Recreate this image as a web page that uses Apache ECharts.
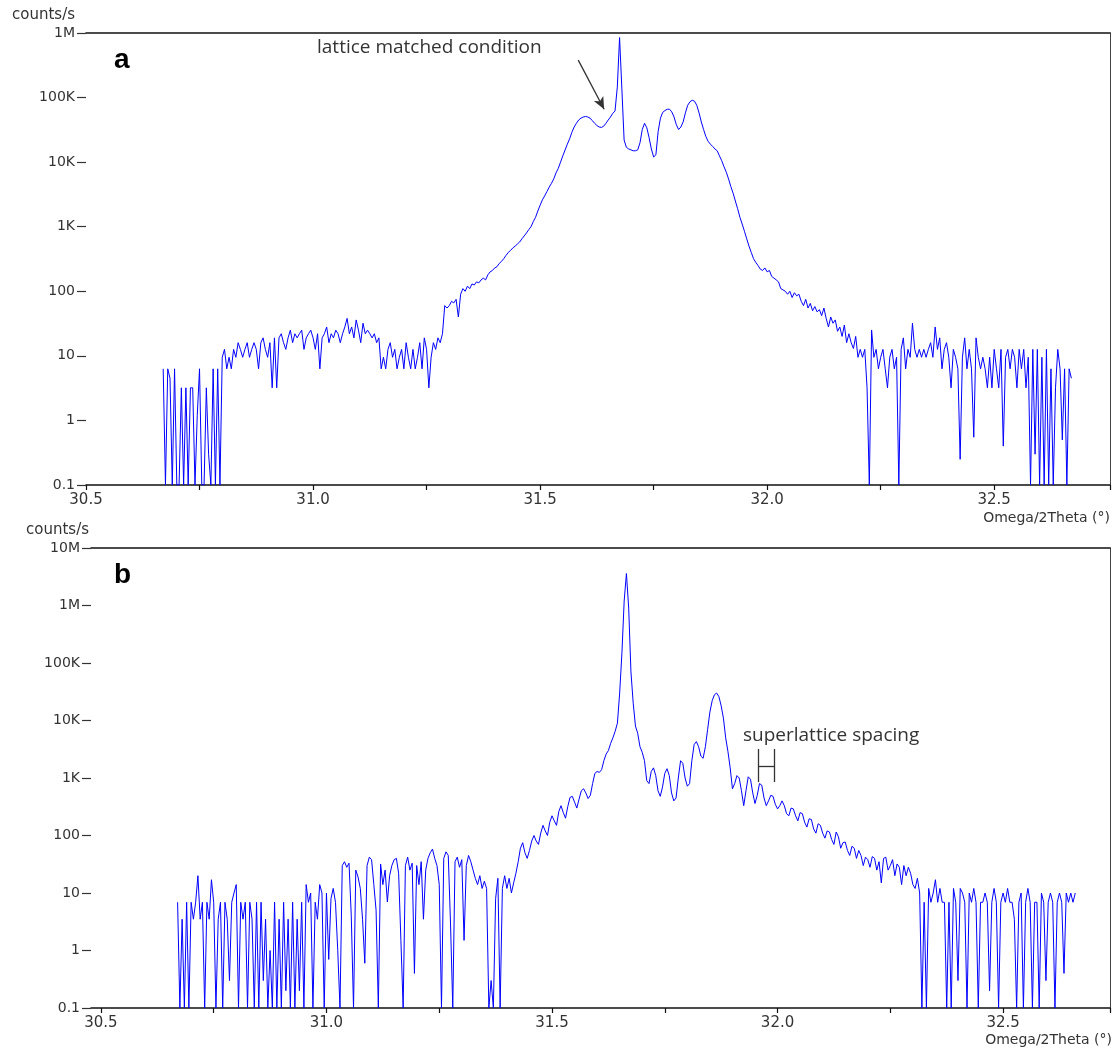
<!DOCTYPE html>
<html>
<head>
<meta charset="utf-8">
<title>Omega/2Theta scans a / b</title>
<script src="https://cdn.jsdelivr.net/npm/echarts@6/dist/echarts.min.js"></script>
<style>
  html, body { margin: 0; padding: 0; background: #fff; }
  #chart { width: 1119px; height: 1050px; }
</style>
</head>
<body>
<div id="chart"></div>
<script>
// scan grid: both scans start at 30.670 deg, one reading every 0.005 deg
const xStart = 30.67;
const xStep = 0.005;

// panel a, counts/s
const countsA = [
  6.3, 0.1, 6.3, 4.5, 0.1, 6.3, 0.1, 0.1, 3.2, 0.1,
  3.2, 0.1, 3.2, 3.2, 0.1, 1.2, 6.3, 0.1, 0.1, 3.2,
  0.3, 0.1, 6.3, 0.1, 6.3, 0.1, 9.5, 12.6, 6.3, 9.5,
  6.3, 12.6, 9.5, 16, 12.6, 9.5, 12.6, 16, 9.5, 12.6,
  16, 12.6, 6.3, 16, 19, 12.6, 9.5, 16, 3.2, 19,
  3.2, 19, 22, 16, 12.6, 19, 25, 16, 22, 19,
  22, 25, 12.6, 19, 22, 25, 19, 12.6, 22, 6.3,
  19, 22, 28, 16, 22, 19, 25, 22, 16, 22,
  28, 38, 22, 28, 19, 36, 25, 16, 32, 22,
  25, 22, 19, 22, 16, 19, 6.3, 9.5, 6.3, 12.6,
  16, 9.5, 12.6, 6.3, 9.5, 12.6, 6.3, 16, 9.5, 6.3,
  12.6, 6.3, 9.5, 16, 6.3, 19, 12.6, 3.2, 9.5, 16,
  12.6, 19, 16, 22, 60, 55, 60, 70, 66, 75,
  40, 90, 110, 100, 120, 110, 130, 125, 140, 135,
  150, 160, 150, 180, 200, 210, 230, 240, 270, 290,
  320, 360, 400, 430, 470, 500, 540, 580, 650, 720,
  800, 900, 1000, 1200, 1400, 1750, 2150, 2600, 3000, 3500,
  4100, 4700, 5500, 6800, 8000, 10000, 12500, 15400, 19000, 23000,
  29000, 35000, 40000, 45000, 48000, 50000, 51000, 50000, 48000, 44000,
  40000, 37000, 35000, 34500, 36000, 40000, 45000, 50000, 57000, 62000,
  145000, 850000, 140000, 22000, 17000, 16000, 15500, 15000, 15000, 15500,
  20000, 32000, 40000, 34000, 24000, 16000, 12000, 13000, 30000, 48000,
  59000, 63000, 66000, 66000, 60000, 50000, 38000, 32000, 35000, 42000,
  58000, 76000, 86000, 91000, 88000, 76000, 58000, 42000, 32000, 25000,
  21000, 19000, 17500, 16000, 15000, 12500, 10500, 8500, 7000, 5500,
  4200, 3300, 2500, 1900, 1400, 1100, 850, 650, 500, 400,
  320, 280, 250, 220, 210, 230, 200, 210, 170, 160,
  150, 140, 110, 105, 100, 90, 100, 80, 95, 85,
  90, 70, 60, 75, 55, 65, 50, 58, 48, 52,
  42, 55, 38, 28, 40, 32, 36, 24, 28, 20,
  30, 16, 22, 16, 13, 20, 9.5, 12.6, 9.5, 12.6,
  3.2, 0.1, 25, 9.5, 12.6, 6.3, 9.5, 12.6, 6.3, 3.2,
  9.5, 12.6, 6.3, 9.5, 0.1, 12.6, 19, 6.3, 12.6, 9.5,
  32, 12.6, 9.5, 12.6, 9.5, 12.6, 9.5, 12.6, 16, 9.5,
  28, 12.6, 19, 6.3, 12.6, 16, 9.5, 3.2, 12.6, 9.5,
  6.3, 0.25, 9.5, 19, 6.3, 12.6, 6.3, 0.55, 19, 9.5,
  6.3, 9.5, 6.3, 3.2, 9.5, 3.2, 12.6, 6.3, 3.2, 12.6,
  0.4, 9.5, 12.6, 6.3, 12.6, 9.5, 3.2, 12.6, 6.3, 12.6,
  3.2, 9.5, 0.1, 12.6, 0.3, 12.6, 0.1, 9.5, 0.1, 12.6,
  0.1, 6.3, 0.1, 3.2, 12.6, 6.3, 0.5, 6.3, 0.1, 6.3,
  4.5
];

// panel b, counts/s
const countsB = [
  6.9, 0.1, 3.5, 0.1, 6.9, 0.1, 6.9, 3.5, 6.9, 20,
  3.5, 6.9, 0.1, 6.9, 3.5, 17, 6.9, 0.1, 3.5, 6.9,
  0.1, 6.9, 3.5, 0.3, 6.9, 10, 14, 0.1, 6.9, 3.5,
  6.9, 0.1, 6.9, 3.5, 0.1, 6.9, 0.1, 6.9, 0.3, 3.5,
  0.1, 1, 0.1, 6.9, 0.1, 3.5, 0.1, 6.9, 0.2, 3.5,
  0.1, 6.9, 0.1, 3.5, 0.2, 6.9, 0.1, 14, 6.9, 10,
  0.1, 6.9, 3.5, 14, 10, 0.1, 10, 0.7, 8, 12,
  6.9, 1, 0.1, 30, 35, 28, 33, 4, 0.1, 25,
  19, 12, 3.5, 0.6, 30, 42, 38, 14, 5, 0.1,
  32, 14, 25, 7, 20, 30, 38, 40, 22, 1.5,
  0.1, 30, 42, 25, 33, 0.4, 30, 14, 35, 3.5,
  25, 40, 50, 58, 40, 30, 14, 0.1, 40, 52,
  45, 3, 0.1, 35, 42, 28, 38, 1.5, 30, 45,
  35, 25, 18, 14, 20, 12, 16, 12, 0.1, 0.3,
  0.1, 8, 18, 0.1, 12, 20, 12, 18, 10, 15,
  22, 35, 60, 75, 50, 40, 55, 80, 100, 80,
  70, 110, 150, 120, 100, 170, 220, 180, 150, 260,
  330, 250, 200, 320, 460, 480, 380, 300, 430, 600,
  650, 550, 440, 500, 800, 1200, 1300, 1250, 1400, 2000,
  2600, 3000, 4000, 5000, 6500, 9000, 30000, 150000, 1200000, 3600000,
  900000, 70000, 20000, 8000, 6000, 3500, 2800, 2000, 900, 800,
  1300, 1500, 1100, 600, 480, 700, 1200, 1450, 1100, 550,
  400, 450, 1000, 2000, 1800, 1000, 720, 800, 2000, 3800,
  4300, 3500, 2400, 2200, 3500, 7000, 14000, 22000, 28000, 30000,
  26000, 18000, 11000, 5000, 2900, 1500, 650, 800, 1100, 1000,
  600, 330, 600, 1050, 950, 550, 360, 500, 800, 750,
  450, 330, 400, 500, 480, 350, 290, 330, 400, 330,
  240, 220, 300, 290, 220, 180, 250, 240, 170, 140,
  195, 190, 130, 110, 160, 150, 110, 90, 120, 115,
  85, 70, 115, 95, 60, 75, 77, 55, 45, 65,
  60, 40, 55, 45, 30, 42, 38, 28, 43, 40,
  25, 35, 15, 40, 42, 25, 30, 38, 20, 32,
  28, 14, 30, 20, 28, 22, 14, 12, 18, 10,
  0.1, 6.9, 0.1, 12, 6.9, 10, 17, 6.9, 12, 6.9,
  6.9, 0.1, 6.9, 0.1, 12, 6.9, 0.3, 12, 10, 6.9,
  0.1, 10, 6.9, 12, 6.9, 0.1, 6.9, 6.9, 10, 6.9,
  0.2, 6.9, 12, 6.9, 0.1, 6.9, 10, 6.9, 12, 6.9,
  6.9, 3.5, 0.1, 6.9, 10, 0.1, 6.9, 12, 6.9, 0.1,
  6.9, 6.9, 0.1, 10, 6.9, 0.3, 6.9, 10, 6.9, 0.1,
  6.9, 10, 6.9, 0.4, 10, 6.9, 10, 6.9, 10
];

// axis ticks and labels
const xTicks = [30.5, 30.75, 31.0, 31.25, 31.5, 31.75, 32.0, 32.25, 32.5];
const xLabels = [30.5, 31.0, 31.5, 32.0, 32.5];
const yLabels = ['0.1', '1', '10', '100', '1K', '10K', '100K', '1M', '10M'];

// annotation anchors (data coordinates)
const arrowA = [[31.584, 380000], [31.641, 66000]];
const spacingB = { left: 31.958, right: 31.993, top: 3200, bottom: 850, mid: 1620 };

const toPairs = vals => vals.map((v, i) => [+(xStart + i * xStep).toFixed(3), v]);

const chart = echarts.init(document.getElementById('chart'), null, { renderer: 'canvas' });

const axisFont = 'DejaVu Sans';

function bottomAxis(grid, min, max) {
  return {
    type: 'value', gridIndex: grid, position: 'bottom', min: min, max: max,
    axisLine: { show: true, onZero: false, lineStyle: { color: '#111', width: 1.5 } },
    axisTick: { show: true, length: 5, customValues: xTicks.concat([max]), lineStyle: { color: '#111', width: 1.2 } },
    axisLabel: { customValues: xLabels, formatter: v => v.toFixed(1), margin: 8,
      fontFamily: axisFont, fontSize: 15, color: '#333' },
    splitLine: { show: false }
  };
}
function topAxis(grid, min, max) {
  return {
    type: 'value', gridIndex: grid, position: 'top', min: min, max: max,
    axisLine: { show: true, onZero: false, lineStyle: { color: '#111', width: 1.5 } },
    axisTick: { show: false }, axisLabel: { show: false }, splitLine: { show: false }
  };
}
function logAxis(grid, max) {
  return {
    type: 'log', logBase: 10, gridIndex: grid, min: 0.1, max: max,
    axisLine: { show: false },
    axisTick: { show: true, length: 9, lineStyle: { color: '#333', width: 1.2 } },
    axisLabel: { margin: 11, formatter: v => yLabels[Math.round(Math.log10(v)) + 1],
      fontFamily: axisFont, fontSize: 14, color: '#333' },
    splitLine: { show: false }
  };
}
function rightAxis(grid) {
  return {
    type: 'value', gridIndex: grid, position: 'right', min: 0, max: 1,
    axisLine: { show: true, onZero: false, lineStyle: { color: '#444', width: 1 } },
    axisTick: { show: false }, axisLabel: { show: false }, splitLine: { show: false }
  };
}

const annoLine = { color: '#333', width: 1.3, type: 'solid' };
const annoFont = '19px "Open Sans"';
const smallFont = '15px "DejaVu Sans"';

chart.setOption({
  animation: false,
  backgroundColor: '#fff',
  grid: [
    { left: 86, top: 33, width: 1024, height: 452 },
    { left: 91, top: 548, width: 1019, height: 460 }
  ],
  xAxis: [
    bottomAxis(0, 30.5, 32.755), topAxis(0, 30.5, 32.755),
    bottomAxis(1, 30.478, 32.737), topAxis(1, 30.478, 32.737)
  ],
  yAxis: [logAxis(0, 1e6), rightAxis(0), logAxis(1, 1e7), rightAxis(1)],
  series: [
    {
      name: 'a', type: 'line', xAxisIndex: 0, yAxisIndex: 0,
      data: toPairs(countsA), showSymbol: false, symbol: 'none',
      lineStyle: { color: '#0000ff', width: 1 },
      markLine: {
        silent: true, symbol: ['none', 'arrow'], symbolSize: [8, 12],
        label: { show: false }, lineStyle: annoLine,
        data: [[{ coord: arrowA[0] }, { coord: arrowA[1] }]]
      }
    },
    {
      name: 'b', type: 'line', xAxisIndex: 2, yAxisIndex: 2,
      data: toPairs(countsB), showSymbol: false, symbol: 'none',
      lineStyle: { color: '#0000ff', width: 1 },
      markLine: {
        silent: true, symbol: ['none', 'none'],
        label: { show: false }, lineStyle: annoLine,
        data: [
          [{ coord: [spacingB.left, spacingB.top] }, { coord: [spacingB.left, spacingB.bottom] }],
          [{ coord: [spacingB.right, spacingB.top] }, { coord: [spacingB.right, spacingB.bottom] }],
          [{ coord: [spacingB.left, spacingB.mid] }, { coord: [spacingB.right, spacingB.mid] }]
        ]
      }
    }
  ],
  graphic: [
    { type: 'text', x: 114, y: 60, style: { text: 'a', font: 'bold 28px "Liberation Sans"', fill: '#000', verticalAlign: 'middle' } },
    { type: 'text', x: 114, y: 575, style: { text: 'b', font: 'bold 28px "Liberation Sans"', fill: '#000', verticalAlign: 'middle' } },
    { type: 'text', x: 75, y: 15, style: { text: 'counts/s', font: smallFont, fill: '#333', align: 'right', verticalAlign: 'middle' } },
    { type: 'text', x: 89, y: 530, style: { text: 'counts/s', font: smallFont, fill: '#333', align: 'right', verticalAlign: 'middle' } },
    { type: 'text', x: 1110, y: 518, style: { text: 'Omega/2Theta (°)', font: '14px "DejaVu Sans"', fill: '#333', align: 'right', verticalAlign: 'middle' } },
    { type: 'text', x: 1112, y: 1040, style: { text: 'Omega/2Theta (°)', font: '14px "DejaVu Sans"', fill: '#333', align: 'right', verticalAlign: 'middle' } },
    { type: 'text', x: 317, y: 48, style: { text: 'lattice matched condition', font: annoFont, fill: '#333', verticalAlign: 'middle' } },
    { type: 'text', x: 743, y: 736, style: { text: 'superlattice spacing', font: annoFont, fill: '#333', verticalAlign: 'middle' } }
  ]
});
</script>
</body>
</html>
